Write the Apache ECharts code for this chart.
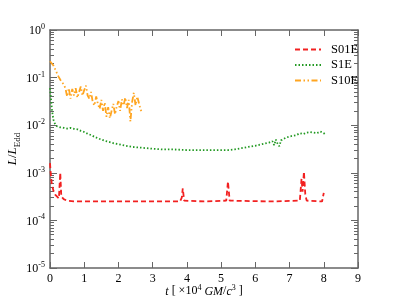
<!DOCTYPE html>
<html><head><meta charset="utf-8">
<script src="https://cdn.jsdelivr.net/npm/echarts@6/dist/echarts.min.js"></script>
<style>html,body{margin:0;padding:0;background:#fff}#c{width:399px;height:299px}</style>
</head><body><div id="c"></div>
<script>
// S01E (red dashed): [t (1e4 GM/c^3), L/LEdd]
var s01eT = [0, 0.02, 0.05, 0.1, 0.15, 0.2, 0.26, 0.3, 0.33, 0.4, 0.5, 0.7, 1.5, 2.5, 3.8, 3.85, 3.88, 3.92, 4.5, 5.15, 5.2, 5.25, 6.5, 7.3, 7.35, 7.38, 7.42, 7.46, 7.5, 7.95, 8.0];
var s01eV = [1.6e-3, 1.0e-3, 6e-4, 4.2e-4, 3.5e-4, 3.2e-4, 2.9e-4, 1.0e-3, 3.2e-4, 2.8e-4, 2.6e-4, 2.5e-4, 2.5e-4, 2.5e-4, 2.5e-4, 3.0e-4, 4.7e-4, 2.6e-4, 2.5e-4, 2.6e-4, 6.5e-4, 2.6e-4, 2.5e-4, 2.6e-4, 7.5e-4, 4e-4, 1.05e-3, 3.5e-4, 2.6e-4, 2.5e-4, 3.8e-4];
// S1E (green dotted)
var s1eT = [0, 0.03, 0.06, 0.1, 0.15, 0.2, 0.3, 0.4, 0.5, 0.6, 0.7, 0.8, 0.9, 1.0, 1.1, 1.2, 1.3, 1.4, 1.5, 1.6, 1.7, 1.8, 1.9, 2.0, 2.2, 2.4, 2.6, 2.8, 3.0, 3.3, 3.6, 4.0, 4.4, 4.8, 5.2, 5.4, 5.6, 5.8, 6.0, 6.2, 6.4, 6.5, 6.55, 6.6, 6.65, 6.7, 6.75, 6.8, 6.9, 7.0, 7.1, 7.2, 7.3, 7.4, 7.5, 7.6, 7.7, 7.75, 7.8, 7.9, 8.0, 8.05];
var s1eV = [0.06, 0.035, 0.02, 0.013, 0.0105, 0.0095, 0.009, 0.0088, 0.0085, 0.0088, 0.0084, 0.0082, 0.0076, 0.0072, 0.0066, 0.0062, 0.0057, 0.0053, 0.005, 0.0047, 0.0045, 0.0043, 0.0041, 0.004, 0.0037, 0.0035, 0.0034, 0.0033, 0.0032, 0.0031, 0.0031, 0.003, 0.003, 0.003, 0.003, 0.0031, 0.0033, 0.0035, 0.0037, 0.004, 0.0043, 0.0046, 0.0038, 0.005, 0.0041, 0.0036, 0.0048, 0.005, 0.0055, 0.0058, 0.006, 0.0062, 0.0068, 0.0065, 0.007, 0.0072, 0.007, 0.0075, 0.0068, 0.0074, 0.0068, 0.0063];
// S10E (orange dash-dot-dot)
var s10eT = [0, 0.05, 0.1, 0.15, 0.2, 0.25, 0.3, 0.35, 0.4, 0.45, 0.5, 0.55, 0.6, 0.65, 0.7, 0.75, 0.8, 0.85, 0.9, 0.95, 1.0, 1.05, 1.1, 1.15, 1.2, 1.25, 1.3, 1.35, 1.4, 1.45, 1.5, 1.55, 1.6, 1.65, 1.7, 1.75, 1.8, 1.85, 1.9, 1.95, 2.0, 2.05, 2.1, 2.15, 2.2, 2.25, 2.3, 2.35, 2.4, 2.45, 2.5, 2.55, 2.6, 2.65, 2.7];
var s10eV = [0.22, 0.2, 0.18, 0.15, 0.125, 0.105, 0.09, 0.08, 0.072, 0.06, 0.04, 0.06, 0.036, 0.058, 0.042, 0.06, 0.038, 0.05, 0.065, 0.042, 0.055, 0.068, 0.042, 0.036, 0.05, 0.03, 0.026, 0.04, 0.028, 0.022, 0.034, 0.02, 0.03, 0.015, 0.024, 0.014, 0.02, 0.028, 0.017, 0.025, 0.032, 0.02, 0.035, 0.026, 0.038, 0.023, 0.034, 0.012, 0.031, 0.048, 0.026, 0.04, 0.029, 0.021, 0.018];
var seriesNames = ['S01E', 'S1E', 'S10E'];
var xTicks = [0, 1, 2, 3, 4, 5, 6, 7, 8, 9];

function zip(a, b) { return a.map(function (v, i) { return [v, b[i]]; }); }
var minorVals = [];
for (var e = -5; e < 0; e++) for (var m = 2; m <= 9; m++) minorVals.push(m * Math.pow(10, e));

var FONT = "'Liberation Serif','Times New Roman',serif";
var AX = '#666';
var richLbl = {
  b: { fontSize: 12, fontFamily: FONT, color: '#000', verticalAlign: 'bottom', lineHeight: 14 },
  s: { fontSize: 8, fontFamily: FONT, color: '#000', verticalAlign: 'top', lineHeight: 14 }
};
function yFmt(v) { var e = Math.round(Math.log10(v)); return '{b|10}{s|' + e + '}'; }

var yBase = { type: 'log', logBase: 10, min: 1e-5, max: 1, splitLine: { show: false } };
var chart = echarts.init(document.getElementById('c'), null, { renderer: 'canvas' });
chart.setOption({
  animation: false,
  backgroundColor: '#fff',
  grid: { left: 50, right: 41, top: 30, bottom: 31, containLabel: false, outerBoundsMode: 'none' },
  legend: {
    left: 289, top: 38, orient: 'vertical', align: 'left',
    itemWidth: 26, itemHeight: 12, itemGap: 2.5,
    itemStyle: { opacity: 0 },
    textStyle: { fontFamily: FONT, fontSize: 12.5, color: '#000', padding: [0, 0, 0, 5] },
    data: seriesNames
  },
  xAxis: [
    { type: 'value', min: 0, max: 9, interval: 1, position: 'bottom',
      axisLine: { lineStyle: { color: AX, width: 1.5 } },
      axisTick: { inside: true, length: 6, lineStyle: { color: AX } },
      axisLabel: { fontFamily: FONT, fontSize: 12, color: '#000', margin: 5,
        formatter: function (v) { return xTicks.indexOf(v) >= 0 ? String(v) : ''; } },
      splitLine: { show: false },
      name: '{i|t} [ ×10{s|4} {i|GM}/{i|c}{s|3} ]', nameLocation: 'middle', nameGap: 16,
      nameMoveOverlap: false,
      nameTextStyle: { fontFamily: FONT, fontSize: 12, color: '#000',
        rich: { i: { fontStyle: 'italic', fontFamily: FONT, fontSize: 12, verticalAlign: 'bottom', lineHeight: 14 },
                s: { fontSize: 8, fontFamily: FONT, verticalAlign: 'top', lineHeight: 14 } } } },
    { type: 'value', min: 0, max: 9, interval: 1, position: 'top',
      axisLine: { lineStyle: { color: AX, width: 1.5 } },
      axisTick: { inside: true, length: 6, lineStyle: { color: AX } },
      axisLabel: { show: false }, splitLine: { show: false } }
  ],
  yAxis: [
    Object.assign({}, yBase, { position: 'left',
      axisLine: { show: true, lineStyle: { color: AX, width: 1.5 } },
      axisTick: { inside: true, length: 7, lineStyle: { color: AX } },
      axisLabel: { formatter: yFmt, rich: richLbl, margin: 5 },
      name: '{i|L}{n|/}{i|L}{sub|Edd}', nameLocation: 'middle', nameGap: 28,
      nameMoveOverlap: false,
      nameTextStyle: { fontFamily: FONT, fontSize: 13, color: '#000',
        rich: { i: { fontStyle: 'italic', fontFamily: FONT, fontSize: 13, verticalAlign: 'top', lineHeight: 16 },
                n: { fontFamily: FONT, fontSize: 13, verticalAlign: 'top', lineHeight: 16 },
                sub: { fontFamily: FONT, fontSize: 9, verticalAlign: 'bottom', lineHeight: 16 } } } }),
    Object.assign({}, yBase, { position: 'left',
      axisLine: { show: false },
      axisTick: { inside: true, length: 4, lineStyle: { color: AX }, customValues: minorVals },
      axisLabel: { show: false } }),
    Object.assign({}, yBase, { position: 'right',
      axisLine: { show: true, lineStyle: { color: AX, width: 1.5 } },
      axisTick: { inside: true, length: 7, lineStyle: { color: AX } },
      axisLabel: { show: false } }),
    Object.assign({}, yBase, { position: 'right',
      axisLine: { show: false },
      axisTick: { inside: true, length: 4, lineStyle: { color: AX }, customValues: minorVals },
      axisLabel: { show: false } })
  ],
  series: [
    { name: 'S01E', type: 'line', data: zip(s01eT, s01eV), symbol: 'none', showSymbol: false,
      color: '#f22020', lineStyle: { color: '#f22020', width: 1.8, type: [5, 3] } },
    { name: 'S1E', type: 'line', data: zip(s1eT, s1eV), symbol: 'none', showSymbol: false,
      color: '#229922', lineStyle: { color: '#229922', width: 1.8, type: [1.5, 2] } },
    { name: 'S10E', type: 'line', data: zip(s10eT, s10eV), symbol: 'none', showSymbol: false,
      color: '#ffa520', lineStyle: { color: '#ffa520', width: 1.8, type: [6, 2.5, 1.5, 2.5, 1.5, 2.5] } }
  ]
});
</script></body></html>
